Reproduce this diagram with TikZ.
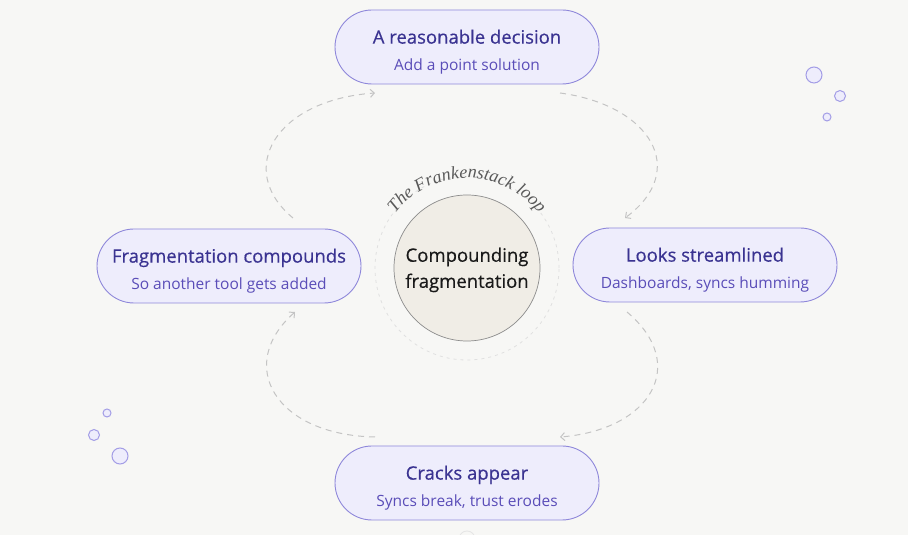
\documentclass[tikz,border=0pt]{standalone}
\usepackage{fontspec}
\setmainfont{Open Sans}
\newfontfamily\headfont{Open Sans}[FakeBold=0.45]
\newfontfamily\loopfont{Liberation Serif}
\usepackage{tikz}
\usetikzlibrary{arrows.meta,decorations.text}

\definecolor{paper}{HTML}{F7F7F5}
\definecolor{pillfill}{HTML}{EEEDFC}
\definecolor{pillline}{HTML}{8E87DA}
\definecolor{titleink}{HTML}{3A3391}
\definecolor{subink}{HTML}{5A4DB8}
\definecolor{loopgray}{HTML}{C4C4C4}
\definecolor{corefill}{HTML}{F0EDE6}
\definecolor{bubble}{HTML}{A39DE6}

\tikzset{
  pill/.style={draw=pillline, line width=0.9pt, fill=pillfill, rectangle,
    rounded corners=37pt, minimum width=264pt, minimum height=74pt,
    align=center, inner sep=0pt, font=\fontsize{15.5}{27}\selectfont},
  loop/.style={draw=loopgray, line width=1pt, dash pattern=on 6pt off 5pt,
    -{Straight Barb[length=4pt,width=8pt,line width=1pt]}},
  bubbles/.style={draw=bubble, line width=1pt, fill=pillfill}
}
\newcommand{\pilltext}[2]{%
  \rule{0pt}{24pt}{\headfont\fontsize{18.5}{22}\selectfont\textcolor{titleink}{#1}}\\%
  {\fontsize{15.5}{22}\selectfont\textcolor{subink}{#2}}}

\begin{document}
\begin{tikzpicture}[x=1pt,y=1pt]
            \useasboundingbox (0,0) rectangle (908,535);
            \fill[paper] (0,0) rectangle (908,535);

            % loop ring and core
            \draw[draw=black!12, line width=0.8pt, dash pattern=on 3pt off 4pt] (467,267) circle (92);
            \node[circle, draw=black!45, line width=0.7pt, fill=corefill,
                  minimum size=146pt, align=center, text=black!90,
                  font=\headfont\fontsize{18.5}{26}\selectfont] (core) at (467,267)
                  {\rule{0pt}{18pt}Compounding\\fragmentation};
            \path[decorate, decoration={text along path, text align=center,
                  text={|\loopfont\itshape\fontsize{18}{18}\selectfont\color{black!65}|The Frankenstack loop}}]
                (467,267) ++(145:90) arc (145:35:90);

            % the four steps
            \node[pill] (decision) at (467,488)
                {\pilltext{A reasonable decision}{Add a point solution}};
            \node[pill] (streamlined) at (705,270)
                {\pilltext{Looks streamlined}{Dashboards, syncs humming}};
            \node[pill] (cracks) at (467,52)
                {\pilltext{Cracks appear}{Syncs break, trust erodes}};
            \node[pill] (compounds) at (229,269)
                {\pilltext{Fragmentation compounds}{So another tool gets added}};

            \coordinate (d-out) at (560,442);
            \coordinate (s-in) at (625,317);
            \coordinate (s-out) at (627,223);
            \coordinate (c-in) at (560,98);
            \coordinate (c-out) at (375,98);
            \coordinate (f-in) at (295,223);
            \coordinate (f-out) at (293,317);
            \coordinate (d-in) at (375,442);

            \draw[loop] (d-out) .. controls (650,430) and (690,365) .. (s-in);
            \draw[loop] (s-out) .. controls (690,170) and (650,105) .. (c-in);
            \draw[loop] (c-out) .. controls (275,100) and (235,170) .. (f-in);
            \draw[loop] (f-out) .. controls (235,365) and (275,435) .. (d-in);

            % bubbles
            \draw[bubbles] (814,460) circle (8);
            \draw[bubbles] (840,439) circle (5.5);
            \draw[bubbles] (827,418) circle (4);
            \draw[bubbles] (107,122) circle (4);
            \draw[bubbles] (94,100) circle (5.5);
            \draw[bubbles] (120,79) circle (8);
            \draw[draw=black!10, line width=0.8pt] (467,-4) circle (8);
\end{tikzpicture}
\end{document}
